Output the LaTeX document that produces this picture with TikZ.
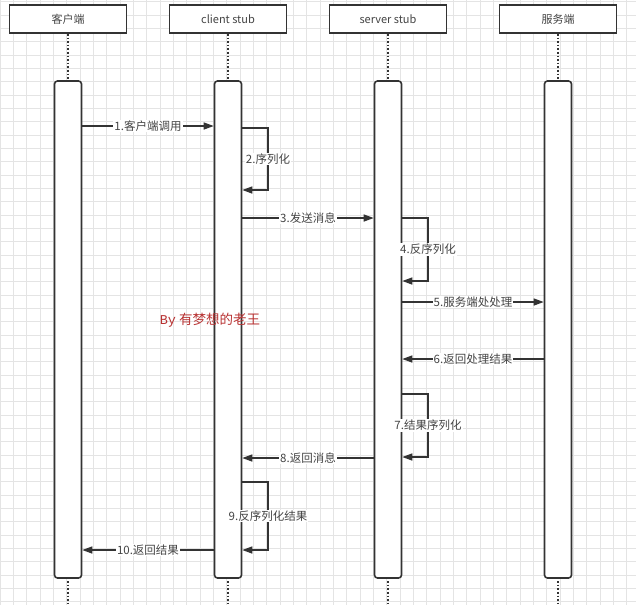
\documentclass[tikz,border=0pt]{standalone}
\usepackage{fontspec}
\setmainfont{Noto Sans CJK SC}
\newfontfamily\wmmono{Liberation Mono}
\usetikzlibrary{arrows.meta}
\definecolor{gridc}{HTML}{E4E4E4}
\definecolor{ink}{HTML}{333333}
\definecolor{txt}{HTML}{444444}
\definecolor{wm}{HTML}{B83232}
\tikzset{
  headbox/.style={draw=ink, line width=1.8pt, fill=white, minimum width=117pt, minimum height=28pt, inner sep=0pt, font=\fontsize{11}{13}\selectfont, text=txt},
  actbar/.style={draw=ink, line width=1.6pt, fill=white, rounded corners=3pt, minimum width=27pt, minimum height=497pt, inner sep=0pt},
  lifeline/.style={ink, line width=1.6pt, dotted},
  msg/.style={ink, line width=1.4pt, -{Triangle[length=10pt,width=7pt]}},
  lbl/.style={fill=white, inner sep=1pt, text=txt, font=\fontsize{11.5}{13}\selectfont},
}
\begin{document}
\begin{tikzpicture}[x=1pt, y=-1pt]
\useasboundingbox (0,0) rectangle (636,605);
\fill[white] (0,0) rectangle (636,605);
% grid
\foreach \i in {0,...,48} {
  \draw[gridc, line width=0.6pt] ({\i*13.333},0) -- ({\i*13.333},605);
}
\foreach \j in {0,...,45} {
  \draw[gridc, line width=0.6pt] (0,{1.7+\j*13.333}) -- (636,{1.7+\j*13.333});
}
% header boxes
\node[headbox] (h0) at (68,19) {客户端};
\node[headbox] (h1) at (228,19) {client stub};
\node[headbox] (h2) at (388,19) {server stub};
\node[headbox] (h3) at (558,19) {服务端};
% lifelines
\coordinate (e0) at (68,605);
\coordinate (e1) at (228,605);
\coordinate (e2) at (388,605);
\coordinate (e3) at (558,605);
\draw[lifeline] (h0.south) -- (e0);
\draw[lifeline] (h1.south) -- (e1);
\draw[lifeline] (h2.south) -- (e2);
\draw[lifeline] (h3.south) -- (e3);
% activation bars
\node[actbar] (b0) at (68,329.5) {};
\node[actbar] (b1) at (228,329.5) {};
\node[actbar] (b2) at (388,329.5) {};
\node[actbar] (b3) at (558,329.5) {};
% 1
\draw[msg] (b0.east |- 0,126) -- node[lbl] {1.客户端调用} (b1.west |- 0,126);
% 2 self
\draw[msg] (b1.east |- 0,128) -- (268,128) -- node[lbl] {2.序列化} (268,190) -- (b1.east |- 0,190);
% 3
\draw[msg] (b1.east |- 0,218) -- node[lbl] {3.发送消息} (b2.west |- 0,218);
% 4 self
\draw[msg] (b2.east |- 0,218) -- (428,218) -- node[lbl] {4.反序列化} (428,281) -- (b2.east |- 0,281);
% 5
\draw[msg] (b2.east |- 0,302) -- node[lbl] {5.服务端处处理} (b3.west |- 0,302);
% 6
\draw[msg] (b3.west |- 0,359) -- node[lbl] {6.返回处理结果} (b2.east |- 0,359);
% 7 self
\draw[msg] (b2.east |- 0,394) -- (428,394) -- node[lbl] {7.结果序列化} (428,457) -- (b2.east |- 0,457);
% 8
\draw[msg] (b2.west |- 0,458) -- node[lbl] {8.返回消息} (b1.east |- 0,458);
% 9 self
\draw[msg] (b1.east |- 0,482) -- (268,482) -- node[lbl] {9.反序列化结果} (268,550) -- (b1.east |- 0,550);
% 10
\draw[msg] (b1.west |- 0,550) -- node[lbl] {10.返回结果} (b0.east |- 0,550);
% watermark
\node[text=wm, font=\fontsize{13.5}{15}\selectfont, inner sep=0pt] (wmk) at (210,320) {{\wmmono By} 有梦想的老王};
\end{tikzpicture}
\end{document}
